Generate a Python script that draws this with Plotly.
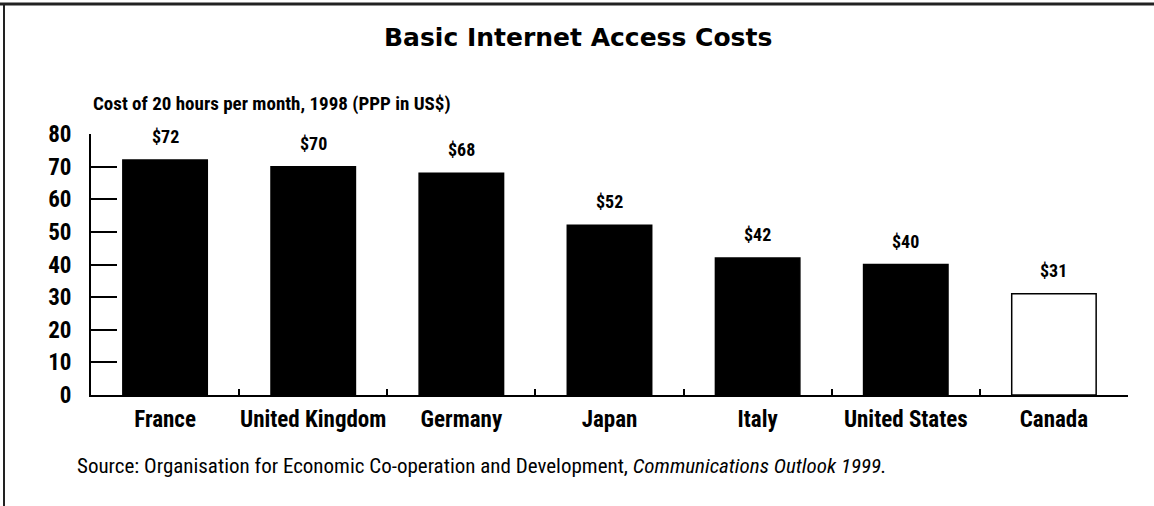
import plotly.graph_objects as go

countries = ["France", "United Kingdom", "Germany", "Japan", "Italy", "United States", "Canada"]
costs = [72, 70, 68, 52, 42, 40, 31]
fill_colors = ["black", "black", "black", "black", "black", "black", "white"]
value_labels = ["$72", "$70", "$68", "$52", "$42", "$40", "$31"]
y_ticks = [0, 10, 20, 30, 40, 50, 60, 70, 80]

W, H = 1154, 506
L, R, T, B = 91, 26, 134, 111
pw, ph = W - L - R, H - T - B

def px_x(p):
    return (p - L) / pw

def px_y(p):
    return (H - B - p) / ph

COND = "Roboto Condensed, Liberation Sans Narrow, Roboto, sans-serif"

fig = go.Figure()
fig.add_trace(go.Bar(
    x=countries, y=costs,
    marker=dict(color=fill_colors, line=dict(color="black", width=1.5)),
    width=0.57, hoverinfo="x+y",
))

for c, v, t in zip(countries, costs, value_labels):
    fig.add_annotation(x=c, y=v, text=t, showarrow=False,
                       yanchor="bottom", yshift=11,
                       font=dict(family=COND, size=18, color="black", weight="bold"))

fig.add_annotation(xref="paper", yref="paper", x=px_x(578), y=px_y(37.5),
                   text="Basic Internet Access Costs", showarrow=False,
                   xanchor="center", yanchor="middle",
                   font=dict(family="DejaVu Sans", size=25, color="black", weight="bold"))
fig.add_annotation(xref="paper", yref="paper", x=px_x(91), y=px_y(103),
                   text="Cost of 20 hours per month, 1998 (PPP in US$)", showarrow=False,
                   xanchor="left", yanchor="middle",
                   font=dict(family=COND, size=19, color="black", weight="bold"))
fig.add_annotation(xref="paper", yref="paper", x=px_x(75), y=px_y(466),
                   text="Source: Organisation for Economic Co-operation and Development, <i>Communications Outlook 1999.</i>",
                   showarrow=False, xanchor="left", yanchor="middle",
                   font=dict(family=COND, size=21, color="black"))

fig.add_shape(type="line", xref="paper", yref="paper",
              x0=px_x(0), x1=px_x(W), y0=px_y(4), y1=px_y(4),
              line=dict(color="#222", width=3))
fig.add_shape(type="line", xref="paper", yref="paper",
              x0=px_x(4), x1=px_x(4), y0=px_y(4), y1=px_y(H),
              line=dict(color="#222", width=2))

fig.update_layout(
    width=W, height=H,
    margin=dict(l=L, r=R, t=T, b=B, pad=0),
    paper_bgcolor="white", plot_bgcolor="white",
    showlegend=False,
    bargap=0.43,
    xaxis=dict(
        range=[-0.5, 6.5], showgrid=False, zeroline=False,
        showline=True, linecolor="black", linewidth=2,
        ticks="inside", tickson="boundaries", ticklen=6, tickwidth=2, tickcolor="black",
        tickfont=dict(family=COND, size=23, color="black", weight="bold"),
        tickangle=0,
        ticklabelstandoff=2,
        fixedrange=True,
    ),
    yaxis=dict(
        range=[0, 80], tickvals=y_ticks, showgrid=False, zeroline=False,
        showline=True, linecolor="black", linewidth=2,
        ticks="inside", ticklen=26, tickwidth=2, tickcolor="black",
        tickfont=dict(family=COND, size=23, color="black", weight="bold"),
        ticklabelstandoff=13,
        fixedrange=True,
    ),
)

fig.write_html("out.html", config={"displayModeBar": False},
               post_script="document.body.style.margin='0';document.body.style.overflow='hidden';")
